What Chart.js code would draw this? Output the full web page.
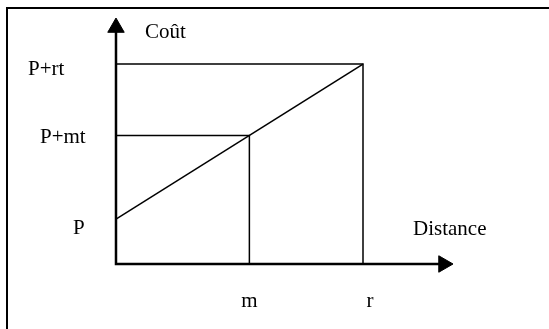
<!DOCTYPE html>
<html>
<head>
<meta charset="utf-8">
<script src="https://cdn.jsdelivr.net/npm/chart.js@4.4.1/dist/chart.umd.min.js"></script>
<style>
html, body { margin: 0; padding: 0; background: #fff; }
#wrap { width: 549px; height: 329px; position: relative; }
</style>
</head>
<body>
<div id="wrap"><canvas id="chart_coutDistance"></canvas></div>
<script>
// values (abstract units)
var distanceLabels = ['m', 'r'];
var distanceValues = [5.4, 10];
var costLabels = ['P', 'P+mt', 'P+rt'];
var costValues = [2.2, 6.3, 9.8];
var axisEnds = [13.26, 11.59]; // x arrow, y arrow
var axisTitles = ['Distance', 'Coût'];

var serif = '21px "Liberation Serif", "Times New Roman", serif';

var chart_coutDistance = new Chart(document.getElementById('chart_coutDistance'), {
    type: 'scatter',
    data: {
        datasets: [
            {
                label: 'axes',
                showLine: true,
                data: [
                    { x: 0, y: axisEnds[1] },
                    { x: 0, y: 0 },
                    { x: axisEnds[0], y: 0 }
                ],
                borderColor: '#000',
                borderWidth: 2.5,
                borderJoinStyle: 'miter',
                pointStyle: 'triangle',
                pointRadius: [9.5, 0, 9.5],
                pointRotation: [0, 0, 90],
                pointBackgroundColor: '#000',
                pointBorderColor: '#000',
                pointBorderWidth: 1
            },
            {
                label: 'r',
                showLine: true,
                data: [
                    { x: 0, y: costValues[2] },
                    { x: distanceValues[1], y: costValues[2] },
                    { x: distanceValues[1], y: 0 }
                ],
                borderColor: '#000',
                borderWidth: 1.5,
                pointRadius: 0
            },
            {
                label: 'm',
                showLine: true,
                data: [
                    { x: 0, y: costValues[1] },
                    { x: distanceValues[0], y: costValues[1] },
                    { x: distanceValues[0], y: 0 }
                ],
                borderColor: '#000',
                borderWidth: 1.5,
                pointRadius: 0
            },
            {
                label: 'cout',
                showLine: true,
                data: [
                    { x: 0, y: costValues[0] },
                    { x: distanceValues[1], y: costValues[2] }
                ],
                borderColor: '#000',
                borderWidth: 1.5,
                pointRadius: 0
            }
        ]
    },
    options: {
        animation: false,
        responsive: true,
        maintainAspectRatio: false,
        events: [],
        layout: { padding: 0, autoPadding: false },
        plugins: {
            legend: { display: false },
            tooltip: { enabled: false },
            title: { display: false }
        },
        scales: {
            x: {
                type: 'linear',
                display: false,
                min: -4.696,
                max: 17.53
            },
            y: {
                type: 'linear',
                display: false,
                min: -3.186,
                max: 12.94
            }
        }
    },
    plugins: [{
        id: 'frameAndText',
        beforeDraw: (chart) => {
            const ctx = chart.ctx;
            ctx.save();
            ctx.fillStyle = 'white';
            ctx.fillRect(0, 0, chart.width, chart.height);
            ctx.strokeStyle = '#000';
            ctx.lineWidth = 2;
            ctx.beginPath();
            ctx.moveTo(7, chart.height);
            ctx.lineTo(7, 8);
            ctx.lineTo(chart.width, 8);
            ctx.stroke();
            ctx.restore();
        },
        afterDraw: (chart) => {
            const ctx = chart.ctx;
            const xs = chart.scales.x, ys = chart.scales.y;
            const x0 = xs.getPixelForValue(0), y0 = ys.getPixelForValue(0);
            ctx.save();
            ctx.fillStyle = '#000';
            ctx.font = serif;
            ctx.textBaseline = 'alphabetic';
            // y labels (left edges as placed in the figure)
            const yLeft = [73, 40, 28];
            const yShift = [15, 7.5, 11];
            ctx.textAlign = 'left';
            costLabels.forEach((t, i) => {
                ctx.fillText(t, yLeft[i], ys.getPixelForValue(costValues[i]) + yShift[i]);
            });
            // x labels
            const xShift = [0, 7];
            ctx.textAlign = 'center';
            distanceLabels.forEach((t, i) => {
                ctx.fillText(t, xs.getPixelForValue(distanceValues[i]) + xShift[i], y0 + 43);
            });
            // axis titles
            ctx.textAlign = 'left';
            ctx.fillText(axisTitles[0], 413, y0 - 29);
            ctx.fillText(axisTitles[1], x0 + 29, 38);
            ctx.restore();
        }
    }]
});
</script>
</body>
</html>
